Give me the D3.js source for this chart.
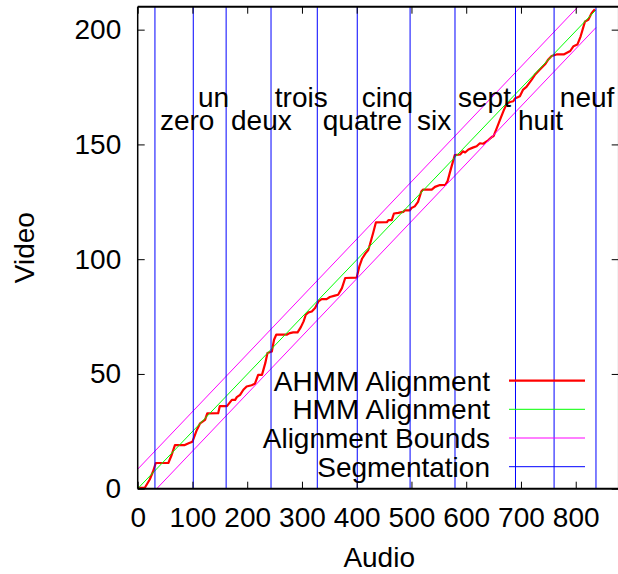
<!DOCTYPE html>
<html>
<head>
<meta charset="utf-8">
<script src="https://cdn.jsdelivr.net/npm/d3@7"></script>
<style>
  body { margin: 0; background: #fff; }
  text { font-family: "Liberation Sans", Arial, Helvetica, sans-serif; font-size: 28px; fill: #000; }
</style>
</head>
<body>
<div id="chart"></div>
<script>
// AHMM alignment path (audio frame -> video frame)
const ahmmAudio = [0, 13, 22, 28, 33, 56, 62, 68, 86, 93, 100, 108, 114, 123, 127, 147, 150, 163, 172, 178,
  181, 187, 193, 199, 208, 214, 220, 227, 233, 237, 245, 249, 253, 272, 278, 284, 292, 298, 303, 307,
  312, 318, 324, 330, 336, 345, 351, 360, 366, 373, 379, 400, 405, 410, 416, 421, 424, 430, 435, 455,
  458, 464, 468, 476, 485, 488, 497, 500, 506, 512, 518, 521, 537, 543, 552, 562, 566, 570, 576, 579,
  589, 594, 598, 604, 612, 619, 625, 631, 640, 647, 650, 656, 662, 668, 674, 680, 686, 689, 698, 704,
  710, 720, 726, 729, 735, 744, 750, 756, 765, 778, 790, 796, 803, 809, 817, 823, 829, 835];
const ahmmVideo = [0.4, 0.4, 4, 7.5, 11.2, 11.2, 14.7, 19, 19, 19.8, 20.5, 25.6, 28.5, 30, 32.8, 32.9, 36, 36, 38.7, 38.7,
  39.9, 40.9, 43.1, 44.5, 45.1, 45.7, 49.6, 49.6, 54.7, 59.1, 59.8, 64.9, 67.1, 67.1, 67.8, 68.1, 68.1, 70.4, 72.9, 75.8,
  76.8, 77.2, 78.7, 81.6, 82.6, 82.6, 83.5, 84.1, 84.5, 87.4, 91.8, 92, 97, 100.3, 102.5, 104, 106.3, 111.4, 116, 116.1,
  117, 117, 119.9, 120.2, 120.6, 121.3, 121.3, 122.3, 123, 125, 129.5, 130.3, 130.3, 131.5, 132.3, 132.4, 134, 137.6, 142.7, 145.3,
  145.6, 147, 146.5, 147.8, 148.6, 149.2, 150.5, 150.3, 151.8, 153.3, 153.6, 157.2, 160.9, 164.5, 167.8, 168.5, 168.8, 170, 171, 173.9,
  175.1, 178.3, 180.5, 181.2, 182.7, 184.9, 187, 188.5, 189.2, 189.2, 190.7, 192.8, 193.5, 197.1, 203.6, 204.3, 207.2, 208.9];

// HMM alignment and bounds (end points of straight lines)
const hmmAudio = [0, 837];
const hmmVideo = [0, 208.6];
const boundAudio = [0, 837];
const boundUpper = [8.5, 218.2];
const boundLower = [-8.7, 200.9];

// segmentation (audio frame of each boundary) and digit words
const segAudio = [31.5, 101.5, 161.5, 243.5, 328, 401, 497.5, 579.5, 690, 760.5, 837];
const words = ["zero", "un", "deux", "trois", "quatre", "cinq", "six", "sept", "huit", "neuf"];
const wordAudio = [40.7, 110, 170.4, 250.5, 338, 409, 510, 585, 694.6, 771];
const wordVideo = [156.4, 166.2, 156.4, 166.2, 156.4, 166.2, 156.4, 166.2, 156.4, 166.2];

const xTicks = [0, 100, 200, 300, 400, 500, 600, 700, 800];
const yTicks = [0, 50, 100, 150, 200];

const legendNames = ["AHMM Alignment", "HMM Alignment", "Alignment Bounds", "Segmentation"];
const legendColors = ["#ff0000", "#00ff00", "#ff00ff", "#0000ff"];

const width = 618, height = 574;
const plotL = 137.7, plotR = 618.7, plotT = 6.7, plotB = 488.7;

const svg = d3.select("#chart").append("svg")
  .attr("width", width)
  .attr("height", height);

const x = d3.scaleLinear().domain([0, 878.5]).range([plotL, plotR]);
const y = d3.scaleLinear().domain([0, 210]).range([plotB, plotT]);

svg.append("clipPath").attr("id", "clip")
  .append("rect")
  .attr("x", plotL).attr("y", plotT)
  .attr("width", plotR - plotL).attr("height", plotB - plotT);

const plot = svg.append("g").attr("clip-path", "url(#clip)");

const line = d3.line().x(d => x(d[0])).y(d => y(d[1]));

// AHMM (red)
plot.append("path")
  .datum(ahmmAudio.map((a, i) => [a, ahmmVideo[i]]))
  .attr("d", line)
  .attr("fill", "none")
  .attr("stroke", "#ff0000")
  .attr("stroke-width", 2.2)
  .attr("stroke-linejoin", "round");

// HMM (green)
plot.append("path")
  .datum(hmmAudio.map((a, i) => [a, hmmVideo[i]]))
  .attr("d", line)
  .attr("fill", "none")
  .attr("stroke", "#00ff00")
  .attr("stroke-width", 1);

// bounds (magenta)
[boundUpper, boundLower].forEach(b => {
  plot.append("path")
    .datum(boundAudio.map((a, i) => [a, b[i]]))
    .attr("d", line)
    .attr("fill", "none")
    .attr("stroke", "#ff00ff")
    .attr("stroke-width", 1);
});

// segmentation (blue verticals)
plot.selectAll("line.seg")
  .data(segAudio)
  .join("line")
  .attr("class", "seg")
  .attr("x1", d => x(d)).attr("x2", d => x(d))
  .attr("y1", y(0)).attr("y2", y(210))
  .attr("stroke", "#0000ff")
  .attr("stroke-width", 1);

// digit words
svg.selectAll("text.word")
  .data(words)
  .join("text")
  .attr("class", "word")
  .attr("x", (d, i) => x(wordAudio[i]))
  .attr("y", (d, i) => y(wordVideo[i]))
  .text(d => d);

// axes with inward ticks
const gx = svg.append("g").attr("transform", `translate(0,${plotB})`)
  .call(d3.axisBottom(x).tickValues(xTicks).tickSize(-7).tickPadding(18.4));
const gxt = svg.append("g").attr("transform", `translate(0,${plotT})`)
  .call(d3.axisTop(x).tickValues(xTicks).tickSize(-7).tickFormat(""));
const gy = svg.append("g").attr("transform", `translate(${plotL},0)`)
  .call(d3.axisLeft(y).tickValues(yTicks).tickSize(-7).tickPadding(16.5));
const gyr = svg.append("g").attr("transform", `translate(${plotR},0)`)
  .call(d3.axisRight(y).tickValues(yTicks).tickSize(-7).tickFormat(""));

[gx, gxt, gy, gyr].forEach(g => {
  g.select(".domain").remove();
  g.selectAll(".tick line").attr("stroke", "#000").attr("stroke-width", 1);
  g.selectAll(".tick text")
    .style("font-family", '"Liberation Sans", Arial, Helvetica, sans-serif')
    .style("font-size", "28px")
    .attr("fill", "#000");
});

// border
svg.append("line").attr("x1", plotL).attr("x2", plotR).attr("y1", plotT).attr("y2", plotT)
  .attr("stroke", "#000").attr("stroke-width", 2);
svg.append("line").attr("x1", plotL).attr("x2", plotR).attr("y1", plotB).attr("y2", plotB)
  .attr("stroke", "#000").attr("stroke-width", 2);
svg.append("line").attr("x1", plotL).attr("x2", plotL).attr("y1", plotT).attr("y2", plotB)
  .attr("stroke", "#000").attr("stroke-width", 1.5);
svg.append("line").attr("x1", plotR).attr("x2", plotR).attr("y1", plotT).attr("y2", plotB)
  .attr("stroke", "#000").attr("stroke-width", 1.5);

// axis titles
svg.append("text")
  .attr("x", (plotL + plotR) / 2 + 1)
  .attr("y", 566.5)
  .attr("text-anchor", "middle")
  .text("Audio");
svg.append("text")
  .attr("transform", `translate(34,${(plotT + plotB) / 2}) rotate(-90)`)
  .attr("text-anchor", "middle")
  .text("Video");

// legend
const legend = svg.append("g");
const rowY = [380.7, 409.3, 438, 466.7];
legendNames.forEach((name, i) => {
  legend.append("text")
    .attr("x", 490)
    .attr("y", rowY[i] + 10)
    .attr("text-anchor", "end")
    .text(name);
  legend.append("line")
    .attr("x1", 509).attr("x2", 585)
    .attr("y1", rowY[i]).attr("y2", rowY[i])
    .attr("stroke", legendColors[i])
    .attr("stroke-width", i === 0 ? 2.2 : 1);
});
</script>
</body>
</html>
